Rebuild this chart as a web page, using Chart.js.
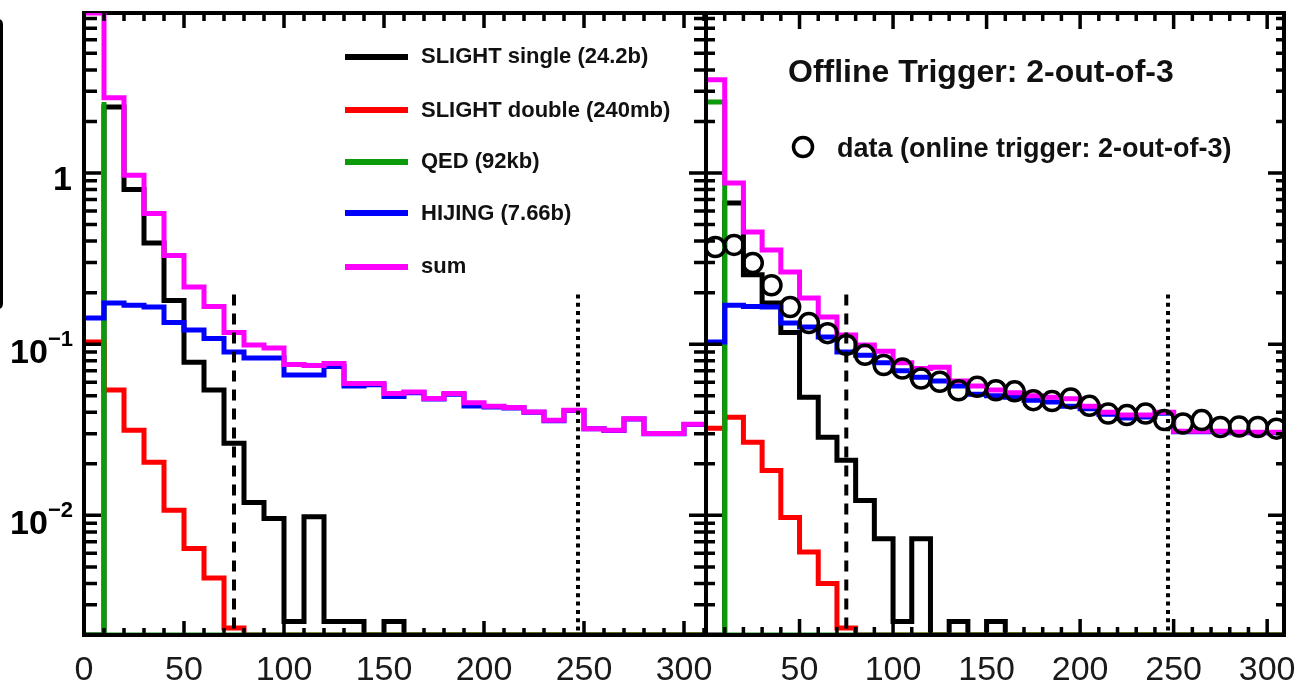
<!DOCTYPE html>
<html>
<head>
<meta charset="utf-8">
<title>Multiplicity distributions</title>
<script src="https://cdn.jsdelivr.net/npm/chart.js@4.4.1/dist/chart.umd.min.js"></script>
<style>
  html, body { margin: 0; padding: 0; background: #fff; }
  #wrap { position: relative; width: 1297px; height: 685px; overflow: hidden; background: #fff; }
  #wrap canvas { position: absolute; left: 0; top: 0; }
</style>
</head>
<body>
<div id="wrap">
  <canvas id="leftPanel" width="1297" height="685"></canvas>
  <canvas id="rightPanel" width="1297" height="685"></canvas>
</div>
<script>
// ---- binning and axes ----
var binEdges = [0, 10, 20, 30, 40, 50, 60, 70, 80, 90, 100, 110, 120, 130, 140, 150,
                160, 170, 180, 190, 200, 210, 220, 230, 240, 250, 260, 270, 280, 290, 300, 310];
var binCenters = [5, 15, 25, 35, 45, 55, 65, 75, 85, 95, 105, 115, 125, 135, 145, 155,
                  165, 175, 185, 195, 205, 215, 225, 235, 245, 255, 265, 275, 285, 295, 305];
var xLabelsLeft = [0, 50, 100, 150, 200, 250, 300];
var xLabelsRight = [50, 100, 150, 200, 250, 300];
var yMajorTicks = [1, 0.1, 0.01];
var yLabelBase = ['1', '10', '10'];
var yLabelExp = ['', '\u22121', '\u22122'];
var yMin = 0.002;
var yMax = 8.6;

// cut positions (dashed / dotted verticals)
var cutLow = 75;
var cutHigh = 247;
var cutTop = 0.195;

// ---- left panel: simulation only ----
var singleL = [0, 2.43, 0.80, 0.39, 0.18, 0.0785, 0.054, 0.0264, 0.0119, 0.0096, 0.0024, 0.0098, 0.0024, 0.0024, 0, 0.0024,
               0, 0, 0, 0, 0, 0, 0, 0, 0, 0, 0, 0, 0, 0, 0];
var doubleL = [0.103, 0.054, 0.0314, 0.0204, 0.0107, 0.0064, 0.0043, 0.0022, 0, 0, 0, 0, 0, 0, 0, 0,
               0, 0, 0, 0, 0, 0, 0, 0, 0, 0, 0, 0, 0, 0, 0];
var qedEdgesL = [0, 10, 10, 310];
var qedL = [0, 2.6, 0];
var hijingL = [0.142, 0.174, 0.169, 0.165, 0.134, 0.121, 0.108, 0.090, 0.083, 0.083, 0.066, 0.066, 0.074, 0.057, 0.058, 0.0495,
               0.052, 0.0478, 0.051, 0.0435, 0.0430, 0.0424, 0.0400, 0.0357, 0.0410, 0.0320, 0.0313, 0.0366, 0.0300, 0.0300, 0.0339];
var sumL = [20, 2.75, 0.97, 0.58, 0.33, 0.216, 0.166, 0.117, 0.099, 0.095, 0.076, 0.075, 0.077, 0.059, 0.059, 0.0515,
            0.0526, 0.0481, 0.0515, 0.0454, 0.0434, 0.0427, 0.0402, 0.0359, 0.0411, 0.0321, 0.0314, 0.0367, 0.0301, 0.0301, 0.034];

// ---- right panel: offline trigger 2-out-of-3, with data ----
var singleR = [0, 0.668, 0.254, 0.174, 0.117, 0.049, 0.0286, 0.021, 0.0122, 0.0073, 0.0024, 0.0073, 0, 0.0024, 0, 0.0024,
               0, 0, 0, 0, 0, 0, 0, 0, 0, 0, 0, 0, 0, 0, 0];
var doubleR = [0.0323, 0.0374, 0.0267, 0.0183, 0.0097, 0.0061, 0.0040, 0.0022, 0, 0, 0, 0, 0, 0, 0, 0,
               0, 0, 0, 0, 0, 0, 0, 0, 0, 0, 0, 0, 0, 0, 0];
var qedEdgesR = [0, 10, 310];
var qedR = [2.6, 0];
var hijingR = [0.103, 0.169, 0.166, 0.165, 0.133, 0.126, 0.110, 0.090, 0.086, 0.078, 0.070, 0.064, 0.061, 0.057, 0.051, 0.050,
               0.049, 0.047, 0.046, 0.0434, 0.042, 0.039, 0.037, 0.0375, 0.0395, 0.0308, 0.0308, 0.0308, 0.0304, 0.0304, 0.0304];
var sumR = [3.5, 0.874, 0.452, 0.355, 0.264, 0.186, 0.144, 0.113, 0.099, 0.091, 0.078, 0.072, 0.0734, 0.061, 0.057, 0.054,
            0.052, 0.050, 0.049, 0.048, 0.0434, 0.040, 0.0385, 0.0385, 0.040, 0.031, 0.031, 0.031, 0.0306, 0.0306, 0.0306];
var dataR = [0.369, 0.38, 0.298, 0.221, 0.165, 0.133, 0.116, 0.099, 0.0866, 0.0755, 0.072, 0.063, 0.0603, 0.0538, 0.0563, 0.0538,
             0.053, 0.0471, 0.0465, 0.0482, 0.0436, 0.0393, 0.0385, 0.0393, 0.036, 0.0344, 0.036, 0.0328, 0.033, 0.0328, 0.0321];

// colours
var cSingle = '#000000';
var cDouble = '#ff0000';
var cQed = '#0a9a0a';
var cHijing = '#0000ff';
var cSum = '#ff00ff';

var fontFam = '"Liberation Sans", Arial, Helvetica, sans-serif';

// histogram outline: flat top per bin, verticals between neighbours.
// empty bins sit on the lower frame, overflow is pinned to the top
function histPoints(edges, vals) {
    var pts = [];
    for (var i = 0; i < vals.length; i++) {
        var v = vals[i] > 0 ? Math.min(vals[i], yMax) : yMin;
        pts.push({ x: edges[i], y: v });
        pts.push({ x: edges[i + 1], y: v });
    }
    return pts;
}

function histSet(color, edges, vals) {
    return {
        data: histPoints(edges, vals),
        borderColor: color,
        borderWidth: 5,
        pointRadius: 0,
        fill: false,
        tension: 0,
        borderJoinStyle: 'miter',
        borderCapStyle: 'butt'
    };
}

function cutSet(xc, dash, width) {
    return {
        data: [{ x: xc, y: cutTop }, { x: xc, y: yMin }],
        borderColor: '#000',
        borderWidth: width,
        borderDash: dash,
        pointRadius: 0,
        fill: false
    };
}

// tick positions for the log axis: 1..9 times each decade
function logTickValues() {
    var out = [];
    var decades = [0.001, 0.01, 0.1, 1];
    for (var d = 0; d < decades.length; d++) {
        for (var m = 1; m <= 9; m++) {
            var v = decades[d] * m;
            if (v >= yMin * 0.999 && v <= yMax) out.push({ v: v, major: m === 1 });
        }
    }
    return out;
}

// frame, inward ticks and tick labels in the ROOT style
function framePlugin(t) {
    return {
        id: 'rootFrame',
        beforeDatasetsDraw: function (chart) {
            var ctx = chart.ctx, a = chart.chartArea;
            ctx.save();
            ctx.strokeStyle = '#000';
            ctx.lineWidth = 4;
            ctx.beginPath();
            ctx.moveTo(a.left - 2, a.top);
            ctx.lineTo(a.right + 2, a.top);
            ctx.stroke();
            ctx.restore();
        },
        afterDatasetsDraw: function (chart) {
            var ctx = chart.ctx, a = chart.chartArea;
            var xs = chart.scales.x, ys = chart.scales.y;
            ctx.save();
            ctx.strokeStyle = '#000';
            ctx.lineWidth = 3.5;
            ctx.beginPath();
            for (var v = 0; v <= 310; v += 10) {
                var px = xs.getPixelForValue(v);
                if (px <= a.left + 1 || px >= a.right - 1) continue;
                var major = v % 50 === 0;
                ctx.moveTo(px, a.top);
                ctx.lineTo(px, a.top + (major ? t.topMajor : t.topMinor));
                ctx.moveTo(px, a.bottom);
                ctx.lineTo(px, a.bottom - (major ? t.botMajor : t.botMinor));
            }
            logTickValues().forEach(function (tk) {
                var py = ys.getPixelForValue(tk.v);
                if (py <= a.top + 1 || py >= a.bottom - 1) return;
                ctx.moveTo(a.left, py);
                ctx.lineTo(a.left + (tk.major ? t.leftMajor : t.leftMinor), py);
                ctx.moveTo(a.right, py);
                ctx.lineTo(a.right - (tk.major ? t.rightMajor : t.rightMinor), py);
            });
            ctx.stroke();

            // frame (top edge already drawn under the histograms)
            ctx.lineWidth = 4;
            ctx.beginPath();
            ctx.moveTo(a.left, a.top - 2);
            ctx.lineTo(a.left, a.bottom + 2);
            ctx.moveTo(a.right, a.top - 2);
            ctx.lineTo(a.right, a.bottom + 2);
            ctx.moveTo(a.left - 2, a.bottom);
            ctx.lineTo(a.right + 2, a.bottom);
            ctx.stroke();

            // x labels
            ctx.fillStyle = '#1a1a1a';
            ctx.font = '34px ' + fontFam;
            ctx.textAlign = 'center';
            ctx.textBaseline = 'alphabetic';
            t.xLabels.forEach(function (v) {
                ctx.fillText(String(v), xs.getPixelForValue(v), 680);
            });

            // y labels only on the outer panel
            if (t.yLabels) {
                ctx.fillStyle = '#000';
                ctx.textAlign = 'right';
                yMajorTicks.forEach(function (v, i) {
                    var py = ys.getPixelForValue(v);
                    var right = 73;
                    if (yLabelExp[i]) {
                        ctx.font = 'bold 22px ' + fontFam;
                        ctx.fillText(yLabelExp[i], right, py + 2);
                        var w = ctx.measureText(yLabelExp[i]).width;
                        ctx.font = 'bold 34px ' + fontFam;
                        ctx.fillText(yLabelBase[i], right - w, py + 19);
                    } else {
                        ctx.font = 'bold 34px ' + fontFam;
                        ctx.fillText(yLabelBase[i], right - 1, py + 17);
                    }
                });
            }
            ctx.restore();
        }
    };
}

// legend of the left panel, plus the edge of the axis-title box
var legendLabels = ['SLIGHT single (24.2b)', 'SLIGHT double (240mb)', 'QED (92kb)', 'HIJING (7.66b)', 'sum'];
var legendColors = [cSingle, cDouble, cQed, cHijing, cSum];
var legendPlugin = {
    id: 'simLegend',
    afterDraw: function (chart) {
        var ctx = chart.ctx;
        ctx.save();
        var rows = [57, 110, 162, 213, 267];
        var base = [63, 117, 168, 220, 273];
        ctx.lineWidth = 6;
        ctx.font = 'bold 22px ' + fontFam;
        ctx.textAlign = 'left';
        ctx.textBaseline = 'alphabetic';
        for (var i = 0; i < legendLabels.length; i++) {
            ctx.strokeStyle = legendColors[i];
            ctx.beginPath();
            ctx.moveTo(345, rows[i]);
            ctx.lineTo(408, rows[i]);
            ctx.stroke();
            ctx.fillStyle = '#111';
            ctx.fillText(legendLabels[i], 421, base[i]);
        }
        // right side of a box cut off at the page edge
        ctx.strokeStyle = '#000';
        ctx.lineWidth = 3;
        ctx.beginPath();
        ctx.moveTo(-2, 20.5);
        ctx.quadraticCurveTo(1.5, 20.5, 1.5, 25);
        ctx.lineTo(1.5, 303);
        ctx.quadraticCurveTo(1.5, 307.5, -2, 307.5);
        ctx.stroke();
        ctx.restore();
    }
};

var triggerPlugin = {
    id: 'triggerText',
    afterDraw: function (chart) {
        var ctx = chart.ctx;
        ctx.save();
        ctx.fillStyle = '#111';
        ctx.textAlign = 'left';
        ctx.textBaseline = 'alphabetic';
        ctx.font = 'bold 32px ' + fontFam;
        ctx.fillText('Offline Trigger: 2-out-of-3', 788, 82);
        ctx.strokeStyle = '#000';
        ctx.lineWidth = 3.5;
        ctx.beginPath();
        ctx.arc(803, 147, 9.5, 0, Math.PI * 2);
        ctx.stroke();
        ctx.font = 'bold 27px ' + fontFam;
        ctx.fillText('data (online trigger: 2-out-of-3)', 837, 157);
        ctx.restore();
    }
};

function panelOptions(xMax) {
    return {
        responsive: false,
        animation: false,
        events: [],
        layout: {},
        plugins: { legend: { display: false }, tooltip: { enabled: false } },
        scales: {
            x: { type: 'linear', min: 0, max: xMax, display: false },
            y: { type: 'logarithmic', min: yMin, max: yMax, display: false }
        }
    };
}

// left panel
var optL = panelOptions(311);
optL.layout.padding = { left: 84, right: 1297 - 706, top: 13, bottom: 685 - 635 };
new Chart(document.getElementById('leftPanel').getContext('2d'), {
    type: 'line',
    data: {
        datasets: [
            cutSet(cutLow, [11, 8], 4),
            cutSet(cutHigh, [4, 4.3], 4),
            histSet(cSum, binEdges, sumL),
            histSet(cHijing, binEdges, hijingL),
            histSet(cQed, qedEdgesL, qedL),
            histSet(cDouble, binEdges, doubleL),
            histSet(cSingle, binEdges, singleL)
        ]
    },
    options: optL,
    plugins: [
        framePlugin({ topMajor: 15, topMinor: 8, botMajor: 14, botMinor: 7,
                      leftMajor: 17, leftMinor: 13, rightMajor: 17, rightMinor: 12,
                      yLabels: true, xLabels: xLabelsLeft }),
        legendPlugin
    ]
});

// right panel
var optR = panelOptions(309);
optR.layout.padding = { left: 706, right: 1297 - 1289, top: 13, bottom: 685 - 635 };
var dataPoints = dataR.map(function (v, i) { return { x: binCenters[i], y: v }; });
new Chart(document.getElementById('rightPanel').getContext('2d'), {
    type: 'line',
    data: {
        datasets: [
            {
                data: dataPoints,
                showLine: false,
                pointStyle: 'circle',
                pointRadius: 9.5,
                pointBorderWidth: 3.5,
                pointBorderColor: '#000',
                pointBackgroundColor: 'rgba(0,0,0,0)'
            },
            cutSet(cutLow, [11, 8], 4),
            cutSet(cutHigh, [4, 4.3], 4),
            histSet(cSum, binEdges, sumR),
            histSet(cHijing, binEdges, hijingR),
            histSet(cQed, qedEdgesR, qedR),
            histSet(cDouble, binEdges, doubleR),
            histSet(cSingle, binEdges, singleR)
        ]
    },
    options: optR,
    plugins: [
        framePlugin({ topMajor: 16, topMinor: 8, botMajor: 16, botMinor: 8,
                      leftMajor: 16, leftMinor: 9, rightMajor: 16, rightMinor: 8,
                      yLabels: false, xLabels: xLabelsRight }),
        triggerPlugin
    ]
});
</script>
</body>
</html>
